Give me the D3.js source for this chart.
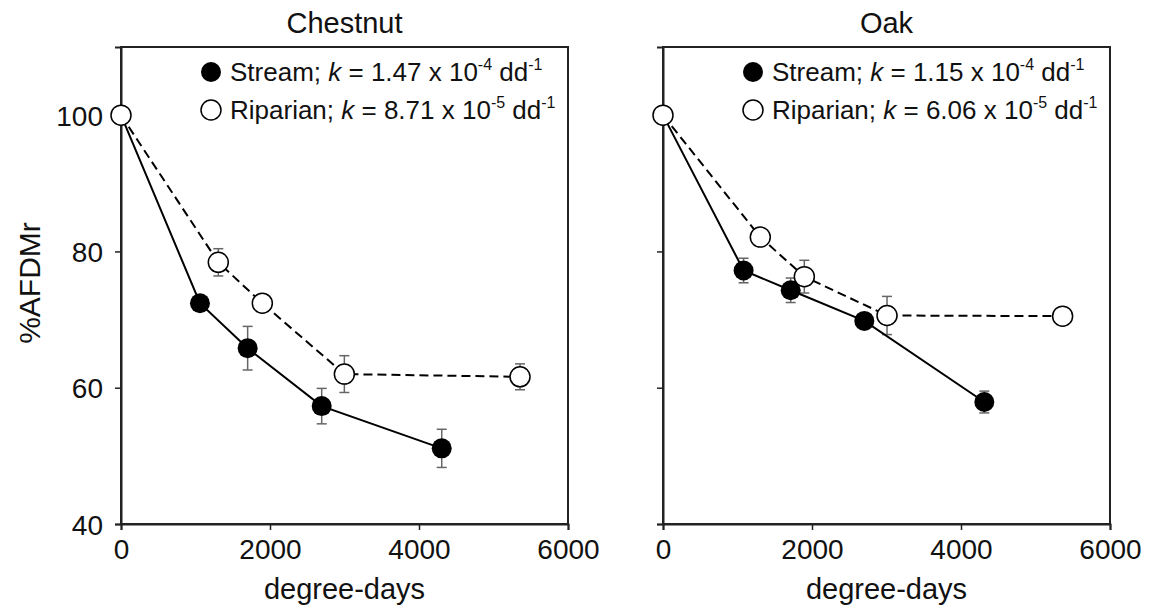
<!DOCTYPE html>
<html>
<head>
<meta charset="utf-8">
<script src="https://cdn.jsdelivr.net/npm/d3@7"></script>
<style>
  body { margin: 0; background: #fff; }
  text { font-family: "Liberation Sans", Arial, sans-serif; fill: #111; }
</style>
</head>
<body>
<div id="chart-area"></div>
<script>
// degree-days and %AFDM remaining
var chestnutStreamDD = [0, 1060, 1700, 2694, 4305];
var chestnutStreamVal = [100, 72.4, 65.8, 57.3, 51.1];
var chestnutStreamErr = [0, 1.0, 3.2, 2.6, 2.8];
var chestnutRipDD = [0, 1306, 1897, 2998, 5356];
var chestnutRipVal = [100, 78.4, 72.4, 62.0, 61.6];
var chestnutRipErr = [0, 2.0, 0.5, 2.7, 1.9];

var oakStreamDD = [0, 1082, 1714, 2702, 4313];
var oakStreamVal = [100, 77.2, 74.3, 69.8, 57.9];
var oakStreamErr = [0, 1.8, 1.8, 0.8, 1.6];
var oakRipDD = [0, 1306, 1897, 3007, 5364];
var oakRipVal = [100, 82.1, 76.3, 70.6, 70.5];
var oakRipErr = [0, 0.8, 2.4, 2.8, 1.0];

var xTicks = [0, 2000, 4000, 6000];
var yTicks = [40, 60, 80, 100];

var panelTitles = ['Chestnut', 'Oak'];
var streamK = ['1.47', '1.15'];
var ripK = ['8.71', '6.06'];

var width = 447, height = 477;
var marginTop = 47;
var panelLeft = [121, 663];

var svg = d3.select('#chart-area')
    .append('svg')
    .attr('width', 1153)
    .attr('height', 614);

var x = d3.scaleLinear().domain([0, 6000]).range([0, width]);
var y = d3.scaleLinear().domain([40, 110]).range([height, 0]);

function zip(dd, val, err) {
    return dd.map(function(d, i) { return { dd: d, v: val[i], e: err[i] }; });
}

var panels = [
    { stream: zip(chestnutStreamDD, chestnutStreamVal, chestnutStreamErr),
      rip: zip(chestnutRipDD, chestnutRipVal, chestnutRipErr) },
    { stream: zip(oakStreamDD, oakStreamVal, oakStreamErr),
      rip: zip(oakRipDD, oakRipVal, oakRipErr) }
];

var line = d3.line()
    .x(function(d) { return x(d.dd); })
    .y(function(d) { return y(d.v); });

panels.forEach(function(p, i) {
    var g = svg.append('g')
        .attr('transform', 'translate(' + panelLeft[i] + ', ' + marginTop + ')');

    // frame
    g.append('rect')
        .attr('width', width)
        .attr('height', height)
        .attr('fill', 'none')
        .attr('stroke', '#222')
        .attr('stroke-width', 2);

    var xAxis = g.append('g')
        .attr('transform', 'translate(0, ' + height + ')')
        .call(d3.axisBottom(x).tickValues(xTicks).tickSize(6).tickPadding(9).tickFormat(d3.format('d')));
    xAxis.select('.domain').attr('stroke', '#222').attr('stroke-width', 2);
    xAxis.selectAll('.tick line').attr('stroke', '#222').attr('stroke-width', 1.5);
    xAxis.selectAll('text').attr('font-size', '28px').attr('fill', '#111')
        .attr('font-family', '"Liberation Sans", Arial, sans-serif');

    var yAxis = g.append('g')
        .call(d3.axisLeft(y).tickValues(yTicks).tickSize(6).tickPadding(12));
    yAxis.select('.domain').attr('stroke', '#222').attr('stroke-width', 2);
    yAxis.selectAll('.tick line').attr('stroke', '#222').attr('stroke-width', 1.5);
    yAxis.selectAll('text').attr('font-size', '28px').attr('fill', '#111')
        .attr('font-family', '"Liberation Sans", Arial, sans-serif')
        .attr('dy', '0.36em');
    if (i === 1) yAxis.selectAll('text').remove();

    g.append('text')
        .text(panelTitles[i])
        .attr('x', width / 2)
        .attr('y', -14)
        .attr('text-anchor', 'middle')
        .attr('font-size', '29px');

    g.append('text')
        .text('degree-days')
        .attr('x', width / 2)
        .attr('y', height + 75)
        .attr('text-anchor', 'middle')
        .attr('font-size', '29px');

    // error bars
    var all = p.stream.concat(p.rip).filter(function(d) { return d.e > 0; });
    var eb = g.selectAll('.err')
        .data(all)
        .enter()
        .append('g')
        .attr('stroke', '#666')
        .attr('stroke-width', 1.5);
    eb.append('line')
        .attr('x1', function(d) { return x(d.dd); })
        .attr('x2', function(d) { return x(d.dd); })
        .attr('y1', function(d) { return y(d.v + d.e); })
        .attr('y2', function(d) { return y(d.v - d.e); });
    eb.append('line')
        .attr('x1', function(d) { return x(d.dd) - 5; })
        .attr('x2', function(d) { return x(d.dd) + 5; })
        .attr('y1', function(d) { return y(d.v + d.e); })
        .attr('y2', function(d) { return y(d.v + d.e); });
    eb.append('line')
        .attr('x1', function(d) { return x(d.dd) - 5; })
        .attr('x2', function(d) { return x(d.dd) + 5; })
        .attr('y1', function(d) { return y(d.v - d.e); })
        .attr('y2', function(d) { return y(d.v - d.e); });

    g.append('path')
        .datum(p.stream)
        .attr('d', line)
        .attr('fill', 'none')
        .attr('stroke', '#000')
        .attr('stroke-width', 2);

    g.append('path')
        .datum(p.rip)
        .attr('d', line)
        .attr('fill', 'none')
        .attr('stroke', '#000')
        .attr('stroke-width', 2)
        .attr('stroke-dasharray', '9,5');

    g.selectAll('.stream-pt')
        .data(p.stream)
        .enter()
        .append('circle')
        .attr('cx', function(d) { return x(d.dd); })
        .attr('cy', function(d) { return y(d.v); })
        .attr('r', 10)
        .attr('fill', '#000');

    g.selectAll('.rip-pt')
        .data(p.rip)
        .enter()
        .append('circle')
        .attr('cx', function(d) { return x(d.dd); })
        .attr('cy', function(d) { return y(d.v); })
        .attr('r', 10)
        .attr('fill', '#fff')
        .attr('stroke', '#000')
        .attr('stroke-width', 1.5);

    // legend
    var lx = 90, ly1 = 25, ly2 = 63;
    g.append('circle').attr('cx', lx).attr('cy', ly1).attr('r', 10).attr('fill', '#000');
    g.append('circle').attr('cx', lx).attr('cy', ly2).attr('r', 10)
        .attr('fill', '#fff').attr('stroke', '#000').attr('stroke-width', 1.5);

    function legendText(yy, name, k, exp) {
        var t = g.append('text')
            .attr('x', lx + 19)
            .attr('y', yy + 9)
            .attr('font-size', '26px');
        t.append('tspan').text(name + '; ');
        t.append('tspan').text('k').attr('font-style', 'italic');
        t.append('tspan').text(' = ' + k + ' x 10');
        t.append('tspan').text(exp).attr('font-size', '16px').attr('dy', -11);
        t.append('tspan').text(' dd').attr('dy', 11);
        t.append('tspan').text('-1').attr('font-size', '16px').attr('dy', -11);
    }
    legendText(ly1, 'Stream', streamK[i], '-4');
    legendText(ly2, 'Riparian', ripK[i], '-5');
});

svg.append('text')
    .text('%AFDMr')
    .attr('transform', 'translate(40, 283) rotate(-90)')
    .attr('text-anchor', 'middle')
    .attr('font-size', '30px');
</script>
</body>
</html>
